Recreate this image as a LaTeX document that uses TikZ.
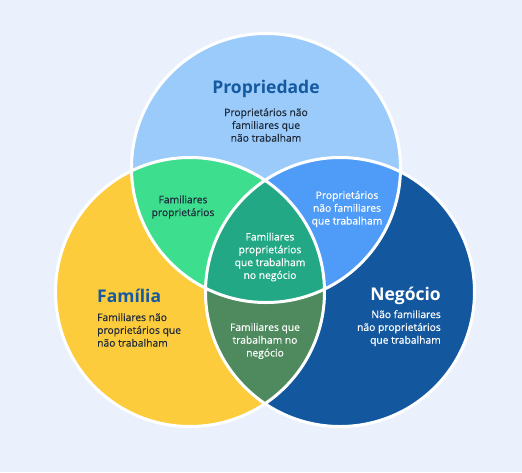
\documentclass[tikz,border=0pt]{standalone}
\usepackage{fontspec}
\setmainfont{Open Sans}
\newfontfamily\semifont[FakeBold=0.4]{Open Sans}
\usetikzlibrary{positioning}
\definecolor{bgblue}{HTML}{EAF1FD}
\definecolor{propblue}{HTML}{9BCBFA}
\definecolor{famyellow}{HTML}{FCCC3C}
\definecolor{negblue}{HTML}{13579E}
\definecolor{pfgreen}{HTML}{3EDE8F}
\definecolor{pnblue}{HTML}{4F9CF8}
\definecolor{fngreen}{HTML}{4E8A5E}
\definecolor{allteal}{HTML}{22A884}
\definecolor{titleblue}{HTML}{1559A1}
\definecolor{inkdark}{HTML}{1E2A3A}
\newcommand{\vcircle}[1]{(#1) circle[radius=134.5pt]}

\begin{document}
\begin{tikzpicture}[x=1pt,y=-1pt,
        zone/.style={draw=white,line width=3pt},
        title/.style={font=\fontsize{17.5}{20}\selectfont\bfseries,inner sep=0pt},
        body/.style={font=\semifont\fontsize{10.3}{12.8}\selectfont,inner sep=0pt,align=center,text=inkdark},
        light/.style={text=white}
      ]
      \fill[bgblue] (0,0) rectangle (522,472);
      \useasboundingbox (0,0) rectangle (522,472);

      \coordinate (P) at (266,168);
      \coordinate (F) at (190,292);
      \coordinate (N) at (340,292);

      \fill[propblue] \vcircle{P};
      \fill[famyellow] \vcircle{F};
      \fill[negblue] \vcircle{N};
      \begin{scope}
        \clip \vcircle{P};
        \fill[pfgreen] \vcircle{F};
        \fill[pnblue] \vcircle{N};
      \end{scope}
      \begin{scope}
        \clip \vcircle{F};
        \fill[fngreen] \vcircle{N};
      \end{scope}
      \begin{scope}
        \clip \vcircle{P};
        \clip \vcircle{F};
        \fill[allteal] \vcircle{N};
      \end{scope}
      \draw[zone] \vcircle{P} \vcircle{F} \vcircle{N};

      \node (propt) [title, text=titleblue] at (266,89) {Propriedade};
      \node (propb) [body, below=10pt of propt] {Proprietários não\\familiares que\\não trabalham};

      \node (famt) [title, text=titleblue, anchor=west] at (97,296) {Família};
      \node (famb) [body, align=left, below=10pt of famt.south west, anchor=north west] {Familiares não\\proprietários que\\não trabalham};

      \node (negt) [title, light, anchor=east] at (441,296) {Negócio};
      \node (negb) [body, light, align=right, below=5pt of negt.south east, anchor=north east] {Não familiares\\não proprietários\\que trabalham};

      \node (pf) [body] at (183,207) {Familiares\\proprietários};
      \node (pn) [body, light] at (347,209) {Proprietários\\não familiares\\que trabalham};
      \node (all) [body, light] at (270,257) {Familiares\\proprietários\\que trabalham\\no negócio};
      \node (fn) [body, light] at (265,341) {Familiares que\\trabalham no\\negócio};
    \end{tikzpicture}
\end{document}
